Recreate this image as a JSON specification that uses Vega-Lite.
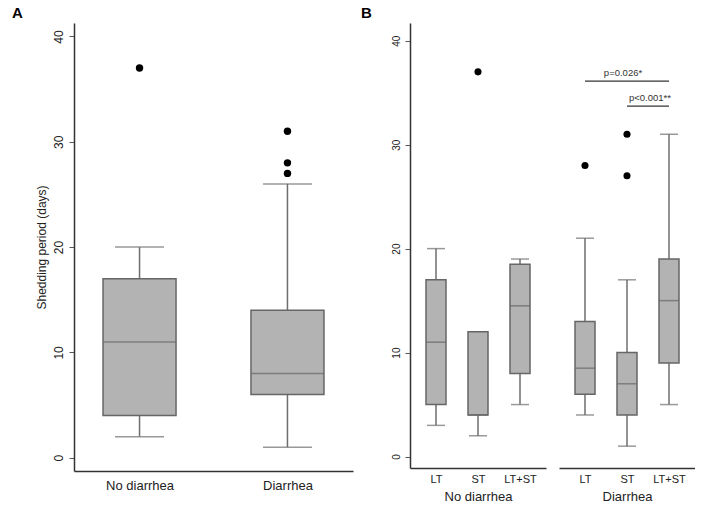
{
  "$schema": "https://vega.github.io/schema/vega-lite/v6.json",
  "padding": {"left": 12, "top": 6, "right": 0, "bottom": 0},
  "config": {
    "view": {"stroke": null},
    "font": "Liberation Sans",
    "axis": {"grid": false, "domainColor": "#333", "domainWidth": 1.5, "tickColor": "#555", "labelColor": "#222", "titleColor": "#222", "titleFontWeight": "normal"},
    "title": {"fontSize": 15, "fontWeight": "bold", "anchor": "start", "color": "#000"}
  },
  "datasets": {
    "a": [
      {"g": "No diarrhea", "lo": 2, "q1": 4, "med": 11, "q3": 17, "hi": 20},
      {"g": "Diarrhea", "lo": 1, "q1": 6, "med": 8, "q3": 14, "hi": 26}
    ],
    "aout": [
      {"g": "No diarrhea", "v": 37},
      {"g": "Diarrhea", "v": 27},
      {"g": "Diarrhea", "v": 28},
      {"g": "Diarrhea", "v": 31}
    ],
    "b1": [
      {"t": "LT", "lo": 3, "q1": 5, "med": 11, "q3": 17, "hi": 20},
      {"t": "ST", "lo": 2, "q1": 4, "med": 4, "q3": 12, "hi": 12},
      {"t": "LT+ST", "lo": 5, "q1": 8, "med": 14.5, "q3": 18.5, "hi": 19}
    ],
    "b1out": [
      {"t": "ST", "v": 37}
    ],
    "b2": [
      {"t": "LT", "lo": 4, "q1": 6, "med": 8.5, "q3": 13, "hi": 21},
      {"t": "ST", "lo": 1, "q1": 4, "med": 7, "q3": 10, "hi": 17},
      {"t": "LT+ST", "lo": 5, "q1": 9, "med": 15, "q3": 19, "hi": 31}
    ],
    "b2out": [
      {"t": "LT", "v": 28},
      {"t": "ST", "v": 27},
      {"t": "ST", "v": 31}
    ],
    "ann": [
      {"x1": "LT", "x2": "LT+ST", "y": 36.1, "lab": "p=0.026*", "id": 1},
      {"x1": "ST", "x2": "LT+ST", "y": 33.7, "lab": "p<0.001**", "id": 2}
    ]
  },
  "resolve": {"scale": {"x": "independent", "y": "independent"}},
  "spacing": 8,
  "hconcat": [
    {
      "title": {"text": "A", "dx": -23, "offset": 2},
      "width": 279,
      "height": 448,
      "encoding": {
        "x": {"field": "g", "type": "nominal", "scale": {"type": "point", "padding": 0.443, "domain": ["No diarrhea", "Diarrhea"]}, "axis": {"title": null, "labelAngle": 0, "ticks": false, "labelFontSize": 13, "labelPadding": 8}}
      },
      "layer": [
        {
          "data": {"name": "a"},
          "mark": {"type": "rule", "color": "#6e6e6e", "strokeWidth": 1.5},
          "encoding": {
            "y": {"field": "lo", "type": "quantitative", "scale": {"domain": [-1.26, 41.28], "nice": false, "zero": false}, "axis": {"title": "Shedding period (days)", "values": [0, 10, 20, 30, 40], "labelAngle": -90, "labelAlign": "center", "labelBaseline": "bottom", "labelPadding": 4, "labelFontSize": 12, "titleFontSize": 12, "titlePadding": 4, "tickSize": 5}},
            "y2": {"field": "hi"}
          }
        },
        {
          "data": {"name": "a"},
          "mark": {"type": "tick", "color": "#6e6e6e", "thickness": 1.5, "size": 49},
          "encoding": {"y": {"field": "lo", "type": "quantitative", "scale": {"domain": [-1.26, 41.28], "nice": false, "zero": false}}}
        },
        {
          "data": {"name": "a"},
          "mark": {"type": "tick", "color": "#6e6e6e", "thickness": 1.5, "size": 49},
          "encoding": {"y": {"field": "hi", "type": "quantitative", "scale": {"domain": [-1.26, 41.28], "nice": false, "zero": false}}}
        },
        {
          "data": {"name": "a"},
          "mark": {"type": "bar", "size": 73, "fill": "#b3b3b3", "stroke": "#666", "strokeWidth": 1.5},
          "encoding": {
            "y": {"field": "q1", "type": "quantitative", "scale": {"domain": [-1.26, 41.28], "nice": false, "zero": false}},
            "y2": {"field": "q3"}
          }
        },
        {
          "data": {"name": "a"},
          "mark": {"type": "tick", "color": "#666", "thickness": 1.5, "size": 73},
          "encoding": {"y": {"field": "med", "type": "quantitative", "scale": {"domain": [-1.26, 41.28], "nice": false, "zero": false}}}
        },
        {
          "data": {"name": "aout"},
          "mark": {"type": "point", "filled": true, "color": "#000", "opacity": 1, "size": 55},
          "encoding": {"y": {"field": "v", "type": "quantitative", "scale": {"domain": [-1.26, 41.28], "nice": false, "zero": false}}}
        }
      ]
    },
    {
      "title": {"text": "B", "dx": -30, "offset": 2},
      "spacing": 13,
      "resolve": {"scale": {"x": "independent", "y": "independent"}},
      "hconcat": [
        {
          "width": 136,
          "height": 445,
          "encoding": {
            "x": {"field": "t", "type": "nominal", "scale": {"type": "point", "padding": 0.619, "domain": ["LT", "ST", "LT+ST"]}, "axis": {"title": "No diarrhea", "labelAngle": 0, "ticks": false, "labelFontSize": 11, "labelPadding": 5, "titleFontSize": 13, "titlePadding": 6}}
          },
          "layer": [
            {
              "data": {"name": "b1"},
              "mark": {"type": "rule", "color": "#6e6e6e", "strokeWidth": 1.5},
              "encoding": {
                "y": {"field": "lo", "type": "quantitative", "scale": {"domain": [-1.1, 41.7], "nice": false, "zero": false}, "axis": {"title": null, "values": [0, 10, 20, 30, 40], "labelAngle": -90, "labelAlign": "center", "labelBaseline": "bottom", "labelPadding": 4, "labelFontSize": 10, "tickSize": 5}},
                "y2": {"field": "hi"}
              }
            },
            {
              "data": {"name": "b1"},
              "mark": {"type": "tick", "color": "#6e6e6e", "thickness": 1.5, "size": 18},
              "encoding": {"y": {"field": "lo", "type": "quantitative", "scale": {"domain": [-1.1, 41.7], "nice": false, "zero": false}}}
            },
            {
              "data": {"name": "b1"},
              "mark": {"type": "tick", "color": "#6e6e6e", "thickness": 1.5, "size": 18},
              "encoding": {"y": {"field": "hi", "type": "quantitative", "scale": {"domain": [-1.1, 41.7], "nice": false, "zero": false}}}
            },
            {
              "data": {"name": "b1"},
              "mark": {"type": "bar", "size": 20, "fill": "#b3b3b3", "stroke": "#666", "strokeWidth": 1.5},
              "encoding": {
                "y": {"field": "q1", "type": "quantitative", "scale": {"domain": [-1.1, 41.7], "nice": false, "zero": false}},
                "y2": {"field": "q3"}
              }
            },
            {
              "data": {"name": "b1"},
              "mark": {"type": "tick", "color": "#666", "thickness": 1.5, "size": 20},
              "encoding": {"y": {"field": "med", "type": "quantitative", "scale": {"domain": [-1.1, 41.7], "nice": false, "zero": false}}}
            },
            {
              "data": {"name": "b1out"},
              "mark": {"type": "point", "filled": true, "color": "#000", "opacity": 1, "size": 50},
              "encoding": {"y": {"field": "v", "type": "quantitative", "scale": {"domain": [-1.1, 41.7], "nice": false, "zero": false}}}
            }
          ]
        },
        {
          "width": 136,
          "height": 445,
          "encoding": {
            "x": {"field": "t", "type": "nominal", "scale": {"type": "point", "padding": 0.619, "domain": ["LT", "ST", "LT+ST"]}, "axis": {"title": "Diarrhea", "labelAngle": 0, "ticks": false, "labelFontSize": 11, "labelPadding": 5, "titleFontSize": 13, "titlePadding": 6}}
          },
          "layer": [
            {
              "data": {"name": "b2"},
              "mark": {"type": "rule", "color": "#6e6e6e", "strokeWidth": 1.5},
              "encoding": {
                "y": {"field": "lo", "type": "quantitative", "scale": {"domain": [-1.1, 41.7], "nice": false, "zero": false}, "axis": null},
                "y2": {"field": "hi"}
              }
            },
            {
              "data": {"name": "b2"},
              "mark": {"type": "tick", "color": "#6e6e6e", "thickness": 1.5, "size": 18},
              "encoding": {"y": {"field": "lo", "type": "quantitative", "scale": {"domain": [-1.1, 41.7], "nice": false, "zero": false}, "axis": null}}
            },
            {
              "data": {"name": "b2"},
              "mark": {"type": "tick", "color": "#6e6e6e", "thickness": 1.5, "size": 18},
              "encoding": {"y": {"field": "hi", "type": "quantitative", "scale": {"domain": [-1.1, 41.7], "nice": false, "zero": false}, "axis": null}}
            },
            {
              "data": {"name": "b2"},
              "mark": {"type": "bar", "size": 20, "fill": "#b3b3b3", "stroke": "#666", "strokeWidth": 1.5},
              "encoding": {
                "y": {"field": "q1", "type": "quantitative", "scale": {"domain": [-1.1, 41.7], "nice": false, "zero": false}, "axis": null},
                "y2": {"field": "q3"}
              }
            },
            {
              "data": {"name": "b2"},
              "mark": {"type": "tick", "color": "#666", "thickness": 1.5, "size": 20},
              "encoding": {"y": {"field": "med", "type": "quantitative", "scale": {"domain": [-1.1, 41.7], "nice": false, "zero": false}, "axis": null}}
            },
            {
              "data": {"name": "b2out"},
              "mark": {"type": "point", "filled": true, "color": "#000", "opacity": 1, "size": 50},
              "encoding": {"y": {"field": "v", "type": "quantitative", "scale": {"domain": [-1.1, 41.7], "nice": false, "zero": false}, "axis": null}}
            },
            {
              "data": {"name": "ann"},
              "mark": {"type": "rule", "color": "#333", "strokeWidth": 1.2},
              "encoding": {
                "x": {"field": "x1", "type": "nominal"},
                "x2": {"field": "x2"},
                "y": {"field": "y", "type": "quantitative", "scale": {"domain": [-1.1, 41.7], "nice": false, "zero": false}, "axis": null}
              }
            },
            {
              "data": {"name": "ann"},
              "transform": [{"filter": "datum.id == 1"}],
              "mark": {"type": "text", "fontSize": 9.5, "color": "#333", "baseline": "bottom", "dy": -3, "dx": -4},
              "encoding": {
                "x": {"datum": "ST", "type": "nominal"},
                "y": {"field": "y", "type": "quantitative", "scale": {"domain": [-1.1, 41.7], "nice": false, "zero": false}, "axis": null},
                "text": {"field": "lab"}
              }
            },
            {
              "data": {"name": "ann"},
              "transform": [{"filter": "datum.id == 2"}],
              "mark": {"type": "text", "fontSize": 9.5, "color": "#333", "baseline": "bottom", "dy": -3, "align": "right", "dx": 2},
              "encoding": {
                "x": {"field": "x2", "type": "nominal"},
                "y": {"field": "y", "type": "quantitative", "scale": {"domain": [-1.1, 41.7], "nice": false, "zero": false}, "axis": null},
                "text": {"field": "lab"}
              }
            }
          ]
        }
      ]
    }
  ]
}
